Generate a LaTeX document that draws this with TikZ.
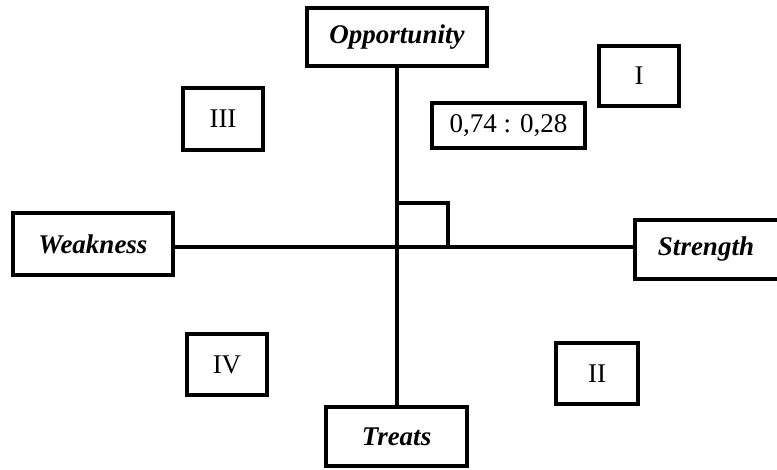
\documentclass[tikz,border=0pt]{standalone}
\usepackage{fontspec}
\setmainfont{Liberation Serif}
\begin{document}
\begin{tikzpicture}[x=1pt,y=-1pt,
  box/.style={draw=black,line width=4pt,fill=white,inner sep=0pt,font=\fontsize{27}{32}\selectfont},
  lbl/.style={box,font=\fontsize{27}{32}\selectfont\bfseries\itshape},
  axis/.style={line width=3.2pt}]
\useasboundingbox (0,0) rectangle (777,470);
\coordinate (c) at (397,247);
\node[lbl,minimum width=180pt,minimum height=58pt] (opp) at (397,37) {Opportunity};
\node[lbl,minimum width=141pt,minimum height=59pt] (tre) at (396.5,436.5) {Treats};
\node[lbl,minimum width=160pt,minimum height=62pt] (weak) at (93,244) {Weakness};
\node[lbl,minimum width=148pt,minimum height=59pt] (str) at (709,249.5) {\hspace*{-6pt}Strength};
\draw[axis] (opp.south) -- (opp.south |- tre.north);
\draw[axis] (c -| weak.east) -- (c -| str.west);
\coordinate (sq) at (448,203);
\draw[axis] (c |- sq) -- (sq) -- (sq |- c);
\node[box,minimum width=80pt,minimum height=60pt] (q1) at (639,76) {I};
\node[box,minimum width=153pt,minimum height=45pt] (val) at (508.5,125.5) {0,74 : 0,28};
\node[box,minimum width=80pt,minimum height=62pt] (q3) at (223,119) {III};
\node[box,minimum width=80pt,minimum height=61pt] (q4) at (227,364.5) {IV};
\node[box,minimum width=82pt,minimum height=61pt] (q2) at (597,373.5) {II};
\end{tikzpicture}
\end{document}
